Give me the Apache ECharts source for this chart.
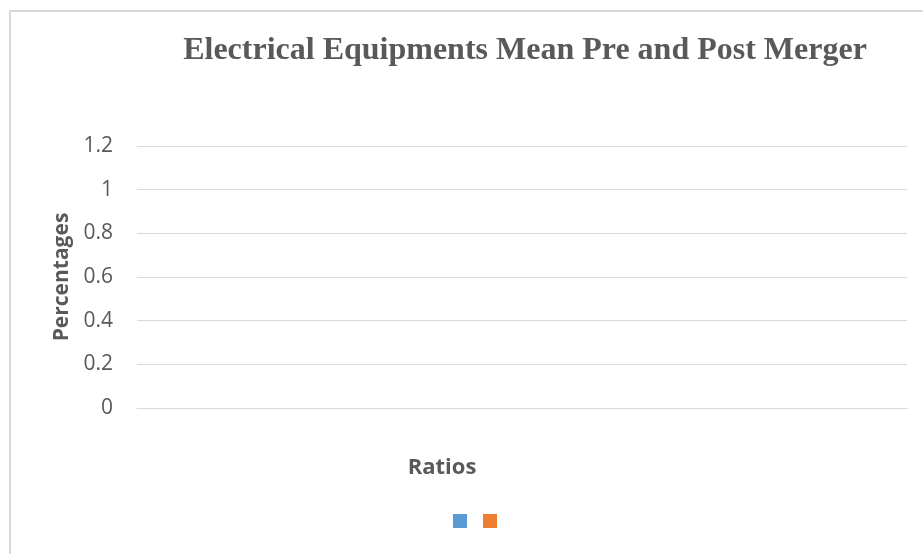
<!DOCTYPE html>
<html><head><meta charset="utf-8">
<script src="https://cdn.jsdelivr.net/npm/echarts@6/dist/echarts.min.js"></script>
<style>
html,body{margin:0;padding:0;background:#fff;}
#frame{position:absolute;left:9px;top:10px;width:940px;height:560px;border-left:2px solid #d9d9d9;border-top:2px solid #d9d9d9;}
#chart{position:absolute;left:0;top:0;width:923px;height:554px;}
</style></head>
<body>
<div id="frame"></div>
<div id="chart"></div>
<script>
const titleText = 'Electrical Equipments Mean Pre and Post Merger';
const categories = [''];
const seriesNames = ['Pre Merger', 'Post Merger'];
const preValues = [];
const postValues = [];
const yTicks = { min: 0, max: 1.2, interval: 0.2 };

const chart = echarts.init(document.getElementById('chart'), null, { renderer: 'canvas' });
chart.setOption({
  backgroundColor: 'transparent',
  animation: false,
  title: {
    text: titleText,
    left: 520, top: 30, textAlign: 'center',
    textStyle: { fontFamily: 'Liberation Serif', fontWeight: 'bold', fontSize: 32, color: '#595959' }
  },
  legend: {
    data: seriesNames,
    bottom: 26, left: 453, padding: 0,
    itemWidth: 14, itemHeight: 14, itemGap: 16,
    icon: 'rect',
    formatter: function () { return ''; },
    textStyle: { fontSize: 1 }
  },
  grid: { left: 137, right: 16, top: 146, bottom: 146 },
  xAxis: {
    type: 'category', data: categories,
    name: 'Ratios', nameLocation: 'middle', nameGap: 49,
    nameTextStyle: { fontFamily: 'Open Sans', fontWeight: 'bold', fontSize: 22, color: '#595959', padding: [0, 160, 0, 0] },
    axisLine: { show: true, lineStyle: { color: '#d9d9d9', width: 1 } },
    axisTick: { show: false }, axisLabel: { show: false }
  },
  yAxis: {
    type: 'value', min: yTicks.min, max: yTicks.max, interval: yTicks.interval,
    name: 'Percentages', nameLocation: 'middle', nameGap: 63,
    nameTextStyle: { fontFamily: 'Open Sans', fontWeight: 'bold', fontSize: 21, color: '#595959' },
    axisLine: { show: false }, axisTick: { show: false },
    axisLabel: { fontFamily: 'Open Sans', fontSize: 21, color: '#595959', margin: 24 },
    splitLine: { lineStyle: { color: '#d9d9d9', width: 1 } }
  },
  series: [
    { name: seriesNames[0], type: 'bar', data: preValues, itemStyle: { color: '#5B9BD5' } },
    { name: seriesNames[1], type: 'bar', data: postValues, itemStyle: { color: '#ED7D31' } }
  ]
});
</script>
</body></html>
